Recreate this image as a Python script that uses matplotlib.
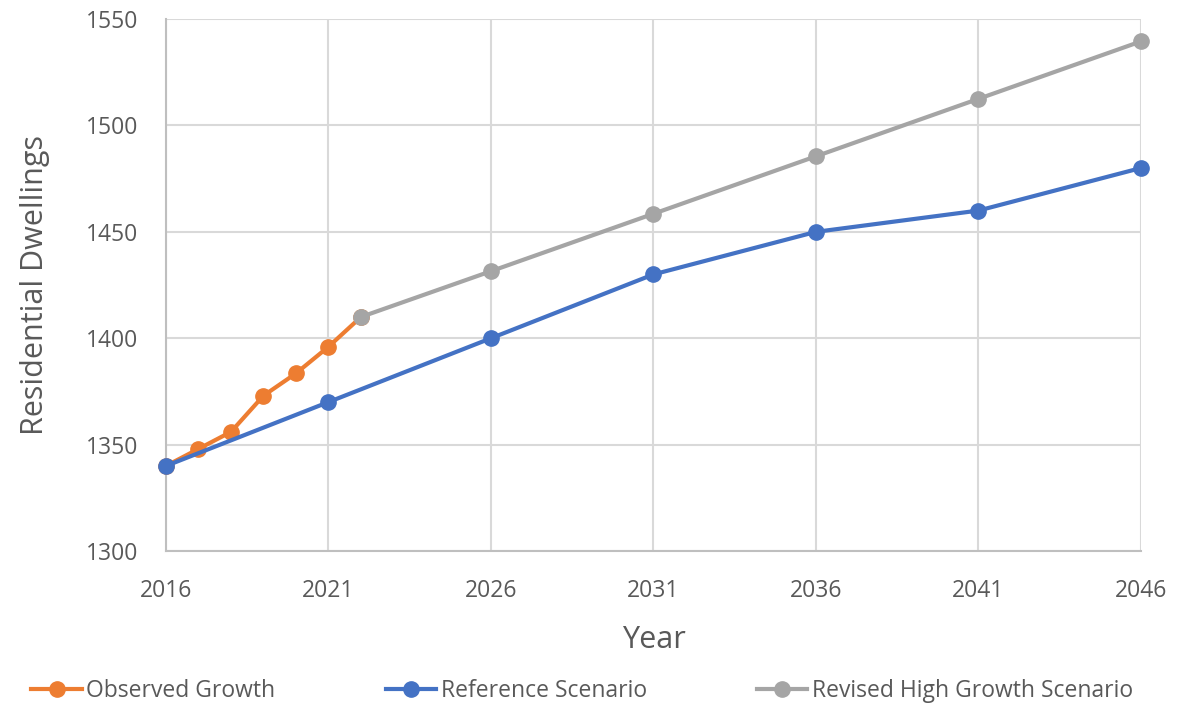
import matplotlib
matplotlib.use("Agg")
import matplotlib.pyplot as plt

plt.rcParams['font.family'] = ['Open Sans', 'DejaVu Sans']

obs_years = [2016, 2017, 2018, 2019, 2020, 2021, 2022]
obs_vals = [1340, 1348, 1356, 1373, 1383.5, 1396, 1410]

ref_years = [2016, 2021, 2026, 2031, 2036, 2041, 2046]
ref_vals = [1340, 1370, 1400, 1430, 1450, 1460, 1480]

high_years = [2022, 2026, 2031, 2036, 2041, 2046]
high_vals = [1410, 1431.5, 1458.5, 1485.5, 1512.5, 1539.5]

xticks = [2016, 2021, 2026, 2031, 2036, 2041, 2046]
yticks = [1300, 1350, 1400, 1450, 1500, 1550]

fig = plt.figure(figsize=(11.88, 7.06), dpi=100)
ax = fig.add_axes([0.1397, 0.2195, 0.8207, 0.7535])

ax.plot(obs_years, obs_vals, color='#ED7D31', lw=3, marker='o', ms=11, label='Observed Growth', zorder=3, clip_on=False)
ax.plot(ref_years, ref_vals, color='#4472C4', lw=3, marker='o', ms=11, label='Reference Scenario', zorder=4, clip_on=False)
ax.plot(high_years, high_vals, color='#A5A5A5', lw=3, marker='o', ms=11, label='Revised High Growth Scenario', zorder=5, clip_on=False)

ax.set_xlim(2016, 2046)
ax.set_ylim(1300, 1550)
ax.set_xticks(xticks)
ax.set_yticks(yticks)
ax.grid(True, color='#D9D9D9', lw=1.5)
ax.set_axisbelow(True)
for s in ['top', 'right']:
    ax.spines[s].set_visible(False)
for s in ['left', 'bottom']:
    ax.spines[s].set_color('#BFBFBF')
    ax.spines[s].set_linewidth(1.5)
ax.tick_params(axis='x', length=0, labelsize=16.5, colors='#595959', pad=20)
ax.tick_params(axis='y', length=0, labelsize=16.5, colors='#595959', pad=20)

ax.set_xlabel('Year', fontsize=22, color='#595959', labelpad=16)
ax.set_ylabel('Residential Dwellings', fontsize=22, color='#595959', labelpad=26)

fig.legend(loc='lower center', ncol=3, frameon=False, fontsize=16.5, bbox_to_anchor=(0.49, -0.025),
           handlelength=2.2, columnspacing=4.8, labelcolor='#595959', handletextpad=0.2)

fig.savefig('out.png', dpi=100)
